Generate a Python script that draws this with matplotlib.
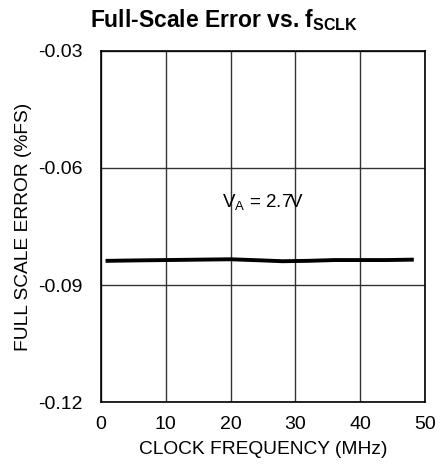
import matplotlib
matplotlib.use("Agg")
import matplotlib.pyplot as plt

plt.rcParams['font.family'] = ['Liberation Sans', 'DejaVu Sans']
plt.rcParams['mathtext.fontset'] = 'custom'
plt.rcParams['mathtext.rm'] = 'Liberation Sans'
plt.rcParams['mathtext.bf'] = 'Liberation Sans:bold'

# data
clock_mhz = [1, 5, 10, 15, 20, 25, 28, 32, 36, 40, 44, 48]
fs_error = [-0.0838, -0.0837, -0.0836, -0.0835, -0.0834, -0.0837, -0.0839, -0.0838, -0.0836, -0.0836, -0.0836, -0.0835]
x_ticks = [0, 10, 20, 30, 40, 50]
y_ticks = [-0.12, -0.09, -0.06, -0.03]

fig = plt.figure(figsize=(4.43, 4.67), dpi=100)
ax = fig.add_axes([0.228, 0.139, 0.731, 0.752])

ax.plot(clock_mhz, fs_error, color='black', linewidth=2.8, zorder=3)
ax.text(25, -0.0690, r'V$_\mathregular{A}$ = 2.7V', ha='center', va='center', fontsize=13.5)

ax.set_xlim(0, 50)
ax.set_ylim(-0.12, -0.03)
ax.set_xticks(x_ticks)
ax.set_yticks(y_ticks)
ax.set_yticklabels(['%.2f' % v for v in y_ticks])
ax.tick_params(length=0, labelsize=14)
ax.tick_params(axis='y', pad=13)
ax.tick_params(axis='x', pad=10)
ax.grid(True, color='#333333', linewidth=1.0)
for s in ax.spines.values():
    s.set_linewidth(1.2)

ax.set_xlabel('CLOCK FREQUENCY (MHz)', fontsize=13.8, labelpad=6)
ax.set_ylabel('FULL SCALE ERROR (%FS)', fontsize=13.8, labelpad=5)
fig.suptitle(r'Full-Scale Error vs. f$_\mathbf{SCLK}$', fontsize=16.5, fontweight='bold', x=0.505, y=0.985)

fig.savefig('out.png', dpi=100)
